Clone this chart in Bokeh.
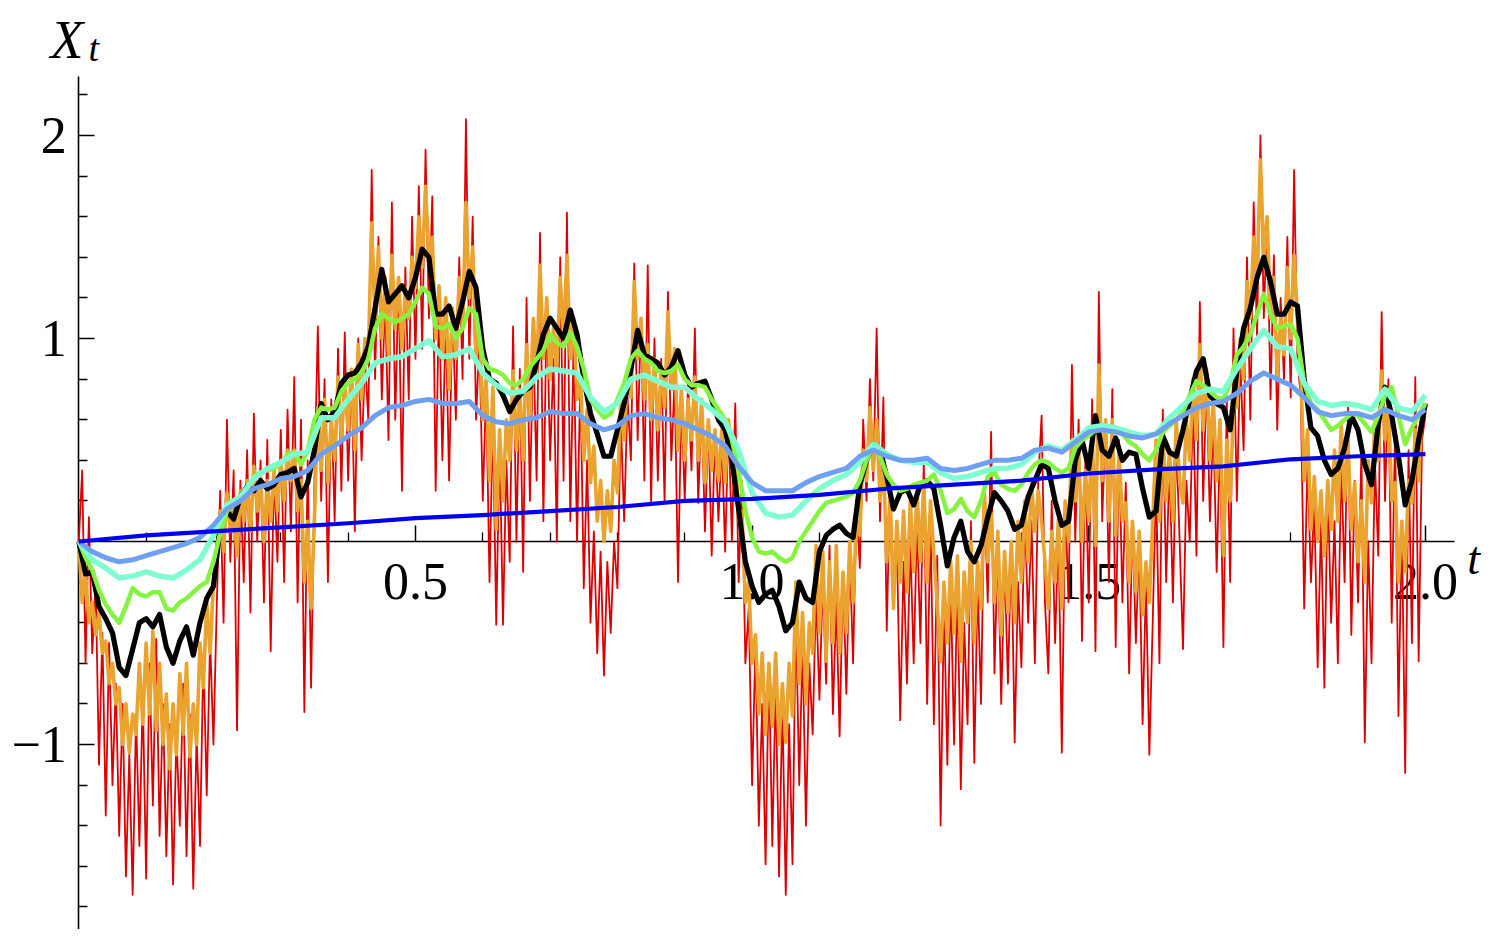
import numpy as np
from bokeh.plotting import figure
from bokeh.models import Range1d, FixedTicker, Label, PrintfTickFormatter
from bokeh.embed import file_html
from bokeh.resources import INLINE

# ---- data (values on a regular grid over t in [0, 2]) ----
red = [
    0.00, 0.35, -0.60, 0.12, -0.55, -0.20, -1.10, -0.45, -1.35, -0.50,
    -1.20, -0.70, -1.45, -0.80, -1.65, -1.05, -1.74, -0.85, -1.50, -0.75,
    -1.66, -0.60, -1.30, -0.48, -1.45, -0.80, -1.55, -0.90, -1.69, -0.95,
    -1.40, -0.70, -1.55, -0.85, -1.71, -0.95, -1.50, -0.55, -1.25, -0.48,
    -1.00, -0.30, 0.25, -0.40, 0.60, -0.10, 0.35, -0.93, 0.30, -0.20,
    0.45, -0.35, 0.63, 0.00, 0.40, -0.30, 0.50, -0.54, 0.35, -0.10,
    0.55, -0.20, 0.65, 0.05, 0.81, -0.30, 0.60, -0.84, 0.40, -0.72,
    0.30, 1.06, 0.20, 0.80, -0.20, 0.70, 0.10, 0.95, 0.25, 1.03,
    0.30, 0.85, 0.05, 1.00, 0.40, 0.90, 0.60, 1.83, 0.80, 1.50,
    0.70, 1.20, 0.50, 1.67, 0.60, 1.30, 0.25, 1.35, 0.70, 1.60,
    0.90, 1.75, 0.95, 1.93, 1.10, 1.70, 0.25, 1.20, 0.40, 1.10,
    0.30, 1.15, 0.60, 1.40, 0.80, 2.08, 0.90, 1.60, 0.60, 1.00,
    0.20, 0.75, -0.20, 0.60, -0.41, 0.50, -0.41, 0.40, -0.10, 1.06,
    0.00, 0.85, -0.15, 1.20, 0.20, 1.00, 0.30, 1.52, 0.10, 1.20,
    0.40, 0.90, 0.00, 1.40, 0.30, 1.62, 0.10, 1.00, 0.00, 0.81,
    -0.23, 0.40, -0.40, 0.05, -0.55, -0.05, -0.66, -0.10, -0.45, 0.00,
    -0.23, 0.60, 0.10, 0.71, 0.40, 1.37, 0.50, 1.10, 0.30, 1.36,
    0.19, 1.00, 0.30, 0.90, 0.20, 1.23, 0.40, 0.80, -0.20, 0.70,
    0.20, 0.80, 0.35, 1.05, 0.19, 0.68, 0.05, 0.60, -0.07, 0.55,
    0.10, 0.50, -0.05, 0.60, 0.00, 0.68, -0.20, 0.30, -0.60, -0.33,
    -1.20, -0.50, -1.40, -0.80, -1.59, -0.60, -1.50, -0.70, -1.65, -0.80,
    -1.74, -0.90, -1.59, -0.33, -1.20, -0.50, -1.40, -0.60, -0.95, -0.25,
    -0.78, -0.20, -0.70, -0.02, -0.85, -0.30, -0.96, -0.15, -0.75, -0.05,
    -0.60, 0.20, -0.13, 0.60, 0.20, 0.80, 0.30, 1.05, 0.10, 0.71,
    -0.44, 0.30, -0.30, 0.00, -0.88, -0.10, -0.70, 0.00, -0.60, 0.10,
    -0.50, 0.40, -0.80, 0.10, -0.90, -0.07, -1.40, -0.30, -1.10, -0.20,
    -1.00, -0.20, -1.22, -0.40, -0.90, 0.10, -1.09, -0.20, -0.80, 0.24,
    -0.30, 0.54, -0.65, 0.00, -0.80, -0.10, -0.70, 0.00, -0.99, -0.20,
    -0.62, 0.16, -0.40, 0.10, -0.60, 0.30, 0.62, -0.30, -0.65, 0.20,
    -0.50, 0.06, -1.04, 0.20, -0.30, 0.87, 0.00, 0.60, -0.49, 0.40,
    -0.30, 0.70, -0.54, 1.23, 0.10, 0.60, -0.20, 0.75, -0.52, 0.50,
    -0.30, 0.29, -0.65, 0.10, -0.50, 0.00, -0.90, -0.20, -1.05, -0.40,
    0.30, -0.60, 0.65, -0.20, 0.40, -0.30, 0.50, 0.00, -0.53, 0.30,
    0.00, 0.70, -0.07, 1.18, 0.20, 0.81, 0.10, 0.60, -0.15, 0.50,
    -0.52, 0.71, -0.20, 1.05, 0.20, 0.90, 0.45, 1.40, 0.60, 1.67,
    1.00, 2.00, 1.10, 1.60, 0.70, 1.41, 0.55, 1.20, 0.80, 1.50,
    0.71, 1.83, 0.90, 0.71, -0.33, 0.40, -0.20, 0.19, -0.62, 0.10,
    -0.72, 0.29, -0.40, 0.10, -0.60, 0.40, -0.20, 0.66, -0.46, 0.30,
    -0.30, 0.45, -0.99, 0.00, -0.60, 0.40, -0.07, 1.13, 0.20, 0.80,
    -0.40, 0.55, -0.86, 0.10, -1.14, 0.45, -0.50, 0.81, -0.59, 0.50,
    0.62,
]

orange = [
    0.00, -0.30, -0.15, -0.40, -0.30, -0.46, -0.35, -0.55, -0.49, -0.70,
    -0.60, -0.80, -0.72, -1.00, -0.80, -1.04, -0.85, -0.95, -0.60, -0.90,
    -0.50, -0.85, -0.44, -0.93, -0.60, -1.00, -0.75, -1.12, -0.80, -1.05,
    -0.65, -0.95, -0.60, -1.06, -0.80, -1.00, -0.50, -0.72, -0.30, -0.55,
    -0.20, -0.05, 0.15, -0.05, 0.24, 0.05, 0.20, -0.07, 0.25, 0.10,
    0.30, 0.05, 0.37, 0.15, 0.32, 0.00, 0.30, 0.10, 0.35, 0.15,
    0.40, 0.20, 0.45, 0.30, 0.45, 0.15, 0.30, -0.20, 0.10, -0.33,
    0.11, 0.66, 0.35, 0.70, 0.29, 0.60, 0.40, 0.81, 0.50, 0.78,
    0.55, 0.85, 0.45, 0.97, 0.70, 1.00, 0.92, 1.57, 1.10, 1.45,
    1.00, 1.30, 0.92, 1.41, 1.05, 1.30, 0.95, 1.25, 1.10, 1.40,
    1.25, 1.60, 1.35, 1.75, 1.40, 1.50, 1.00, 1.26, 0.90, 1.20,
    0.75, 1.15, 0.90, 1.30, 1.05, 1.67, 1.20, 1.45, 0.90, 1.10,
    0.60, 0.80, 0.30, 0.76, 0.06, 0.55, 0.20, 0.60, 0.40, 0.84,
    0.45, 0.75, 0.40, 0.97, 0.60, 1.10, 0.81, 1.36, 0.90, 1.20,
    0.80, 1.05, 0.85, 1.30, 1.00, 1.41, 0.90, 1.10, 0.70, 0.81,
    0.40, 0.65, 0.29, 0.47, 0.10, 0.30, 0.00, 0.25, 0.05, 0.40,
    0.24, 0.70, 0.50, 0.84, 0.71, 1.28, 0.90, 1.10, 0.70, 0.97,
    0.60, 0.90, 0.55, 0.85, 0.66, 1.13, 0.75, 0.95, 0.45, 0.75,
    0.40, 0.70, 0.50, 0.81, 0.40, 0.70, 0.29, 0.60, 0.35, 0.55,
    0.30, 0.55, 0.29, 0.60, 0.35, 0.45, 0.10, 0.15, -0.30, -0.20,
    -0.60, -0.46, -0.85, -0.55, -0.95, -0.60, -0.91, -0.55, -1.00, -0.70,
    -0.99, -0.60, -0.86, -0.20, -0.70, -0.35, -0.80, -0.40, -0.55, -0.02,
    -0.45, -0.05, -0.59, -0.10, -0.50, -0.02, -0.55, -0.15, -0.45, 0.00,
    -0.30, 0.10, 0.03, 0.45, 0.30, 0.66, 0.35, 0.60, 0.20, 0.40,
    -0.10, 0.24, -0.33, 0.10, -0.20, 0.15, -0.25, 0.20, -0.15, 0.25,
    -0.10, 0.29, -0.20, 0.20, -0.07, -0.30, -0.59, -0.20, -0.50, -0.10,
    -0.45, -0.07, -0.59, -0.15, -0.40, 0.00, -0.50, -0.10, -0.33, 0.24,
    -0.10, 0.14, -0.30, 0.05, -0.46, -0.05, -0.35, 0.00, -0.40, 0.10,
    -0.20, 0.20, -0.10, 0.29, 0.05, 0.25, 0.10, -0.10, -0.33, 0.05,
    -0.20, 0.11, -0.33, 0.20, 0.00, 0.50, 0.20, 0.45, 0.00, 0.35,
    0.10, 0.55, -0.02, 0.87, 0.30, 0.60, 0.10, 0.60, 0.03, 0.45,
    0.10, 0.19, -0.20, 0.10, -0.25, 0.05, -0.36, -0.10, -0.30, 0.10,
    0.50, 0.10, 0.55, 0.20, 0.45, 0.10, 0.60, 0.30, 0.19, 0.60,
    0.40, 0.80, 0.50, 0.97, 0.55, 0.85, 0.40, 0.70, 0.30, 0.60,
    -0.07, 0.50, 0.20, 0.66, 0.66, 1.00, 0.80, 1.28, 1.10, 1.50,
    1.30, 1.88, 1.40, 1.60, 1.10, 1.30, 0.81, 1.10, 0.92, 1.35,
    1.00, 1.41, 1.10, 0.84, 0.30, 0.55, 0.06, 0.32, 0.00, 0.25,
    -0.07, 0.30, 0.06, 0.45, 0.10, 0.58, 0.20, 0.50, 0.06, 0.29,
    -0.10, 0.20, -0.20, 0.40, 0.19, 0.60, 0.40, 0.84, 0.50, 0.70,
    0.20, 0.29, -0.20, 0.10, -0.15, 0.30, 0.19, 0.55, 0.30, 0.66,
    0.62,
]

black = [
    0.00, -0.16, -0.15, -0.32, -0.38, -0.45, -0.62, -0.66, -0.53, -0.40,
    -0.38, -0.42, -0.36, -0.52, -0.60, -0.49, -0.42, -0.56, -0.40, -0.28,
    -0.22, 0.08, 0.15, 0.11, 0.22, 0.27, 0.25, 0.30, 0.26, 0.28,
    0.33, 0.34, 0.36, 0.22, 0.29, 0.45, 0.68, 0.60, 0.64, 0.78,
    0.82, 0.83, 0.88, 0.96, 1.15, 1.34, 1.18, 1.22, 1.26, 1.20,
    1.30, 1.44, 1.40, 1.12, 1.12, 1.16, 1.05, 1.18, 1.33, 1.25,
    0.95, 0.80, 0.78, 0.72, 0.64, 0.70, 0.74, 0.76, 0.88, 1.02,
    1.10, 1.05, 1.00, 1.14, 1.02, 0.80, 0.63, 0.53, 0.42, 0.42,
    0.55, 0.68, 0.85, 1.04, 0.92, 0.90, 0.88, 0.82, 0.86, 0.94,
    0.82, 0.76, 0.78, 0.79, 0.70, 0.60, 0.55, 0.40, 0.16, -0.10,
    -0.22, -0.30, -0.26, -0.24, -0.32, -0.44, -0.40, -0.20, -0.28, -0.30,
    -0.05, 0.03, 0.06, 0.08, 0.04, 0.02, 0.28, 0.40, 0.48, 0.45,
    0.32, 0.16, 0.24, 0.26, 0.18, 0.28, 0.30, 0.26, 0.08, -0.12,
    0.02, 0.10, -0.05, -0.10, -0.02, 0.12, 0.24, 0.20, 0.15, 0.06,
    0.08, 0.22, 0.30, 0.38, 0.36, 0.20, 0.08, 0.10, 0.40, 0.50,
    0.36, 0.62, 0.45, 0.42, 0.51, 0.40, 0.44, 0.43, 0.26, 0.12,
    0.15, 0.52, 0.44, 0.42, 0.55, 0.70, 0.84, 0.90, 0.72, 0.68,
    0.66, 0.55, 0.84, 1.05, 1.15, 1.30, 1.40, 1.28, 1.12, 1.12,
    1.18, 1.16, 0.80, 0.56, 0.52, 0.40, 0.33, 0.36, 0.46, 0.62,
    0.55, 0.38, 0.28, 0.58, 0.76, 0.62, 0.42, 0.18, 0.30, 0.50,
    0.68,
]

green = [
    0.00, -0.08, -0.14, -0.24, -0.31, -0.36, -0.40, -0.32, -0.23, -0.26,
    -0.27, -0.25, -0.25, -0.33, -0.34, -0.30, -0.28, -0.25, -0.22, -0.20,
    -0.10, 0.04, 0.15, 0.18, 0.20, 0.26, 0.32, 0.34, 0.35, 0.36,
    0.38, 0.43, 0.44, 0.38, 0.45, 0.60, 0.66, 0.65, 0.66, 0.74,
    0.78, 0.80, 0.83, 0.90, 1.05, 1.12, 1.10, 1.08, 1.10, 1.12,
    1.18, 1.25, 1.22, 1.06, 1.05, 1.07, 1.00, 1.05, 1.15, 1.12,
    0.90, 0.85, 0.84, 0.82, 0.78, 0.77, 0.80, 0.86, 0.90, 0.94,
    1.02, 0.98, 0.96, 1.03, 0.96, 0.85, 0.70, 0.65, 0.61, 0.63,
    0.70, 0.78, 0.90, 0.94, 0.90, 0.88, 0.84, 0.83, 0.84, 0.87,
    0.80, 0.77, 0.77, 0.76, 0.70, 0.65, 0.60, 0.50, 0.35, 0.15,
    0.02, -0.05, -0.06, -0.05, -0.08, -0.10, -0.08, 0.00, 0.05, 0.10,
    0.15, 0.19, 0.20, 0.21, 0.22, 0.24, 0.30, 0.40, 0.47, 0.42,
    0.33, 0.28, 0.25, 0.26, 0.28, 0.29, 0.30, 0.33, 0.25, 0.14,
    0.16, 0.21, 0.15, 0.12, 0.20, 0.32, 0.34, 0.28, 0.26, 0.25,
    0.28, 0.34, 0.38, 0.40, 0.39, 0.36, 0.34, 0.36, 0.46, 0.50,
    0.52, 0.55, 0.55, 0.54, 0.55, 0.53, 0.49, 0.47, 0.43, 0.40,
    0.45, 0.54, 0.57, 0.60, 0.64, 0.72, 0.79, 0.77, 0.74, 0.71,
    0.70, 0.78, 0.92, 0.96, 1.02, 1.12, 1.22, 1.12, 1.05, 1.06,
    1.07, 1.00, 0.78, 0.68, 0.65, 0.60, 0.55, 0.57, 0.60, 0.63,
    0.62, 0.58, 0.54, 0.62, 0.72, 0.76, 0.62, 0.48, 0.56, 0.62,
    0.68,
]

aqua = [
    0.00, -0.09, -0.13, -0.18, -0.17, -0.15, -0.17, -0.18, -0.14, -0.09,
    0.03, 0.18, 0.22, 0.31, 0.36, 0.39, 0.43, 0.44, 0.61, 0.61,
    0.70, 0.78, 0.88, 0.90, 0.91, 0.95, 0.99, 0.91, 0.92, 0.95,
    0.83, 0.77, 0.73, 0.74, 0.81, 0.85, 0.84, 0.83, 0.71, 0.64,
    0.68, 0.80, 0.82, 0.79, 0.76, 0.76, 0.70, 0.65, 0.59, 0.45,
    0.24, 0.14, 0.12, 0.13, 0.20, 0.26, 0.30, 0.33, 0.39, 0.48,
    0.43, 0.40, 0.39, 0.39, 0.34, 0.31, 0.32, 0.34, 0.36, 0.36,
    0.38, 0.44, 0.47, 0.45, 0.50, 0.56, 0.57, 0.56, 0.54, 0.52,
    0.53, 0.61, 0.67, 0.73, 0.75, 0.74, 0.85, 0.95, 1.04, 0.96,
    0.95, 0.78, 0.69, 0.67, 0.68, 0.67, 0.65, 0.75, 0.66, 0.64,
    0.72,
]

lightblue = [
    0.00, -0.05, -0.08, -0.10, -0.09, -0.07, -0.05, -0.03, -0.01, 0.02,
    0.08, 0.16, 0.20, 0.26, 0.28, 0.31, 0.32, 0.35, 0.43, 0.47,
    0.52, 0.56, 0.62, 0.66, 0.67, 0.69, 0.70, 0.68, 0.68, 0.69,
    0.62, 0.59, 0.58, 0.60, 0.61, 0.64, 0.63, 0.63, 0.58, 0.55,
    0.57, 0.62, 0.63, 0.61, 0.60, 0.58, 0.55, 0.52, 0.47, 0.37,
    0.29, 0.25, 0.25, 0.25, 0.29, 0.32, 0.34, 0.36, 0.42, 0.45,
    0.42, 0.40, 0.40, 0.41, 0.36, 0.35, 0.36, 0.38, 0.40, 0.40,
    0.41, 0.45, 0.46, 0.44, 0.49, 0.54, 0.55, 0.54, 0.52, 0.51,
    0.53, 0.58, 0.62, 0.66, 0.68, 0.69, 0.73, 0.79, 0.83, 0.80,
    0.77, 0.71, 0.64, 0.62, 0.63, 0.63, 0.61, 0.65, 0.62, 0.60,
    0.65,
]

blue = [0.00, 0.03, 0.05, 0.07, 0.09, 0.115, 0.13, 0.15, 0.17, 0.20,
        0.21, 0.23, 0.26, 0.28, 0.30, 0.335, 0.355, 0.37, 0.405, 0.42, 0.43]

x_major = [0.5, 1.0, 1.5, 2.0]
x_minor = [0.1, 0.2, 0.3, 0.4, 0.6, 0.7, 0.8, 0.9, 1.1, 1.2, 1.3, 1.4, 1.6, 1.7, 1.8, 1.9]
y_major = [-1, 1, 2]
y_minor = [-1.8, -1.6, -1.4, -1.2, -0.8, -0.6, -0.4, -0.2, 0.2, 0.4, 0.6, 0.8,
           1.2, 1.4, 1.6, 1.8, 2.2]
y_labels = {-1: "\u22121", 1: "1", 2: "2"}

T_START, T_END = 0.0, 2.0


def grid(vals):
    return np.linspace(T_START, T_END, len(vals))


SERIF = "Liberation Serif"

p = figure(width=1484, height=929, output_backend="svg", toolbar_location=None,
           x_range=Range1d(-0.1163, 2.0878), y_range=Range1d(-1.9113, 2.665),
           min_border=0, min_border_left=0, min_border_right=0,
           min_border_top=0, min_border_bottom=0)
p.outline_line_color = None
p.grid.visible = False
p.background_fill_color = "white"
p.border_fill_color = "white"

series = [
    (red, "#DD0000", 1.8),
    (orange, "#E9A32E", 3.6),
    (black, "#000000", 5.2),
    (green, "#84F441", 4.5),
    (aqua, "#7FFFD0", 5.5),
    (lightblue, "#6E9FF0", 5.0),
    (blue, "#0000EE", 4.2),
]
for vals, col, lw in series:
    p.line(grid(vals), vals, line_color=col, line_width=lw, line_join="round")

xa = p.xaxis[0]
xa.fixed_location = 0
xa.bounds = (0.0, 2.043)
xa.ticker = FixedTicker(ticks=x_major, minor_ticks=x_minor)
xa.formatter = PrintfTickFormatter(format="%.1f")
ya = p.yaxis[0]
ya.fixed_location = 0
ya.bounds = (-1.97, 2.29)
ya.ticker = FixedTicker(ticks=y_major, minor_ticks=y_minor)
ya.major_label_overrides = y_labels

for ax in (xa, ya):
    ax.level = "underlay"
    ax.axis_line_color = "black"
    ax.axis_line_width = 1.6
    ax.major_tick_in = 16
    ax.major_tick_out = 0
    ax.minor_tick_in = 9
    ax.minor_tick_out = 0
    ax.major_tick_line_width = 1.5
    ax.minor_tick_line_width = 1.3
    ax.major_tick_line_color = "black"
    ax.minor_tick_line_color = "black"
    ax.major_label_text_font = SERIF
    ax.major_label_text_font_size = "52px"
    ax.major_label_text_color = "black"
xa.major_label_standoff = 22
ya.major_label_standoff = 12

p.add_layout(Label(x=-0.042, y=2.47, text="X", text_font=SERIF, text_font_style="italic",
                   text_font_size="54px", text_baseline="alphabetic", text_color="black"))
p.add_layout(Label(x=0.0144, y=2.433, text="t", text_font=SERIF, text_font_style="italic",
                   text_font_size="38px", text_baseline="alphabetic", text_color="black"))
p.add_layout(Label(x=2.062, y=-0.085, text="t", text_font=SERIF, text_font_style="italic",
                   text_font_size="46px", text_baseline="alphabetic", text_color="black"))

open("out.html", "w").write(file_html(p, INLINE))
